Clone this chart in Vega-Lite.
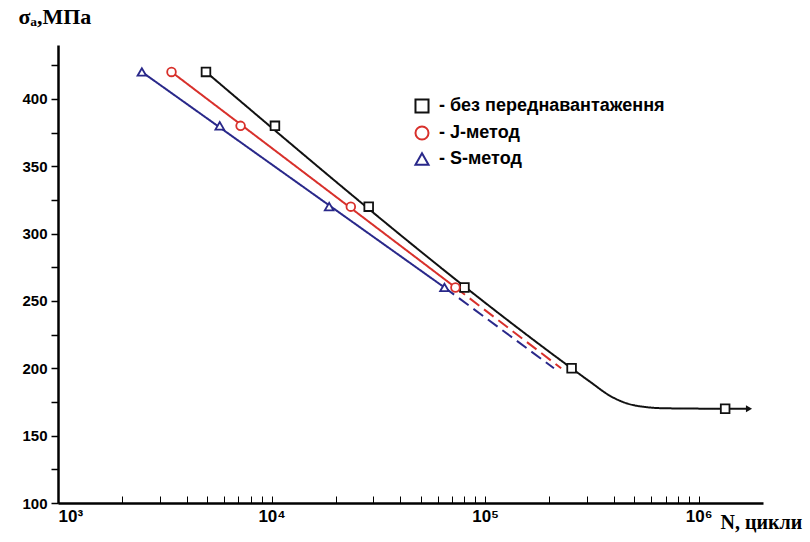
{
  "$schema": "https://vega.github.io/schema/vega-lite/v6.json",
  "width": 705,
  "height": 458,
  "autosize": "none",
  "padding": {"left": 58, "top": 45, "right": 47, "bottom": 39},
  "background": "white",
  "config": {"view": {"stroke": null}, "font": "Liberation Sans"},
  "datasets": {
    "pts": [
      {"series": "- без переднавантаження", "N": 4930, "s": 420},
      {"series": "- без переднавантаження", "N": 10370, "s": 380},
      {"series": "- без переднавантаження", "N": 28500, "s": 320},
      {"series": "- без переднавантаження", "N": 80000, "s": 260},
      {"series": "- без переднавантаження", "N": 254000, "s": 200},
      {"series": "- без переднавантаження", "N": 1330000, "s": 170},
      {"series": "- J-метод", "N": 3400, "s": 420},
      {"series": "- J-метод", "N": 7160, "s": 380},
      {"series": "- J-метод", "N": 23500, "s": 320},
      {"series": "- J-метод", "N": 72600, "s": 260},
      {"series": "- S-метод", "N": 2470, "s": 420},
      {"series": "- S-метод", "N": 5720, "s": 380},
      {"series": "- S-метод", "N": 18600, "s": 320},
      {"series": "- S-метод", "N": 64500, "s": 260}
    ],
    "lines": [
      {"seg": "b1", "dash": "solid", "series": "- без переднавантаження", "N": 4930, "s": 420},
      {"seg": "b1", "dash": "solid", "series": "- без переднавантаження", "N": 254000, "s": 200},
      {"seg": "b1", "dash": "solid", "series": "- без переднавантаження", "N": 310000, "s": 190},
      {"seg": "b1", "dash": "solid", "series": "- без переднавантаження", "N": 390000, "s": 179},
      {"seg": "b1", "dash": "solid", "series": "- без переднавантаження", "N": 500000, "s": 172.5},
      {"seg": "b1", "dash": "solid", "series": "- без переднавантаження", "N": 700000, "s": 170.3},
      {"seg": "b1", "dash": "solid", "series": "- без переднавантаження", "N": 1330000, "s": 170},
      {"seg": "b1", "dash": "solid", "series": "- без переднавантаження", "N": 1720000, "s": 170},
      {"seg": "r1", "dash": "solid", "series": "- J-метод", "N": 3400, "s": 420},
      {"seg": "r1", "dash": "solid", "series": "- J-метод", "N": 72600, "s": 260},
      {"seg": "r2", "dash": "dashed", "series": "- J-метод", "N": 72600, "s": 260},
      {"seg": "r2", "dash": "dashed", "series": "- J-метод", "N": 227000, "s": 200},
      {"seg": "s1", "dash": "solid", "series": "- S-метод", "N": 2470, "s": 420},
      {"seg": "s1", "dash": "solid", "series": "- S-метод", "N": 64500, "s": 260},
      {"seg": "s2", "dash": "dashed", "series": "- S-метод", "N": 64500, "s": 260},
      {"seg": "s2", "dash": "dashed", "series": "- S-метод", "N": 210000, "s": 200}
    ],
    "arrow": [{"series": "- без переднавантаження", "N": 1720000, "s": 170}]
  },
  "encoding": {
    "x": {
      "field": "N", "type": "quantitative",
      "scale": {"type": "log", "domain": [1000, 2000000], "nice": false},
      "axis": {
        "title": "N, цикли", "titleFont": "Liberation Serif", "titleFontWeight": "bold", "titleFontSize": 20,
        "titleColor": "black", "titleX": 662, "titleY": 19, "titleAlign": "left", "titleBaseline": "middle",
        "values": [1000,2000,3000,4000,5000,6000,7000,8000,9000,10000,20000,30000,40000,50000,60000,70000,80000,90000,100000,200000,300000,400000,500000,600000,700000,800000,900000,1000000],
        "labelExpr": "datum.value == 1000 ? '10³' : datum.value == 10000 ? '10⁴' : datum.value == 100000 ? '10⁵' : datum.value == 1000000 ? '10⁶' : ''",
        "tickSize": -7, "tickColor": "black", "tickWidth": 1,
        "domainColor": "black", "domainWidth": 2.5,
        "labelFont": "Liberation Sans", "labelFontWeight": "bold", "labelFontSize": 17,
        "labelColor": "black", "labelPadding": 12, "grid": false
      }
    },
    "y": {
      "field": "s", "type": "quantitative",
      "scale": {"domain": [100, 440], "nice": false},
      "axis": {
        "title": "σₐ,МПа", "titleFont": "Liberation Serif", "titleFontWeight": "bold", "titleFontSize": 22,
        "titleColor": "black", "titleAngle": 0, "titleAlign": "left", "titleBaseline": "middle",
        "titleX": -40, "titleY": -29,
        "values": [100,125,150,175,200,225,250,275,300,325,350,375,400,425],
        "labelExpr": "datum.value % 50 == 0 ? datum.value : ''",
        "tickSize": 7, "tickColor": "black", "tickWidth": 1.5,
        "domainColor": "black", "domainWidth": 2.5,
        "labelFont": "Liberation Sans", "labelFontWeight": "bold", "labelFontSize": 15,
        "labelColor": "black", "labelPadding": 4, "grid": false
      }
    },
    "color": {
      "field": "series", "type": "nominal",
      "scale": {"domain": ["- без переднавантаження", "- J-метод", "- S-метод"], "range": ["#111111", "#d8302b", "#29288a"]}
    }
  },
  "layer": [
    {
      "data": {"name": "lines"},
      "mark": {"type": "line", "interpolate": "monotone", "strokeWidth": 2},
      "encoding": {
        "detail": {"field": "seg"},
        "strokeDash": {"field": "dash", "type": "nominal", "scale": {"domain": ["solid", "dashed"], "range": [[1, 0], [12, 6]]}, "legend": null},
        "color": {"field": "series", "type": "nominal", "legend": null}
      }
    },
    {
      "data": {"name": "arrow"},
      "mark": {"type": "point", "shape": "triangle-right", "filled": true, "size": 50, "opacity": 1},
      "encoding": {"color": {"value": "#111111"}}
    },
    {
      "data": {"name": "pts"},
      "mark": {"type": "point", "filled": true, "fill": "white", "size": 75, "strokeWidth": 1.8, "opacity": 1},
      "encoding": {
        "shape": {
          "field": "series", "type": "nominal",
          "scale": {"domain": ["- без переднавантаження", "- J-метод", "- S-метод"], "range": ["square", "circle", "triangle-up"]}
        },
        "stroke": {
          "field": "series", "type": "nominal",
          "scale": {"domain": ["- без переднавантаження", "- J-метод", "- S-метод"], "range": ["#111111", "#d8302b", "#29288a"]},
          "legend": {
            "title": null, "orient": "none", "legendX": 355, "legendY": 52,
            "labelFont": "Liberation Sans", "labelFontWeight": "bold", "labelFontSize": 18, "labelLimit": 400,
            "labelColor": "black", "symbolSize": 170, "symbolStrokeWidth": 2, "symbolFillColor": "white",
            "rowPadding": 5, "labelOffset": 8
          }
        },
        "color": {"value": "white"}
      }
    }
  ],
  "resolve": {"scale": {"color": "independent"}}
}
